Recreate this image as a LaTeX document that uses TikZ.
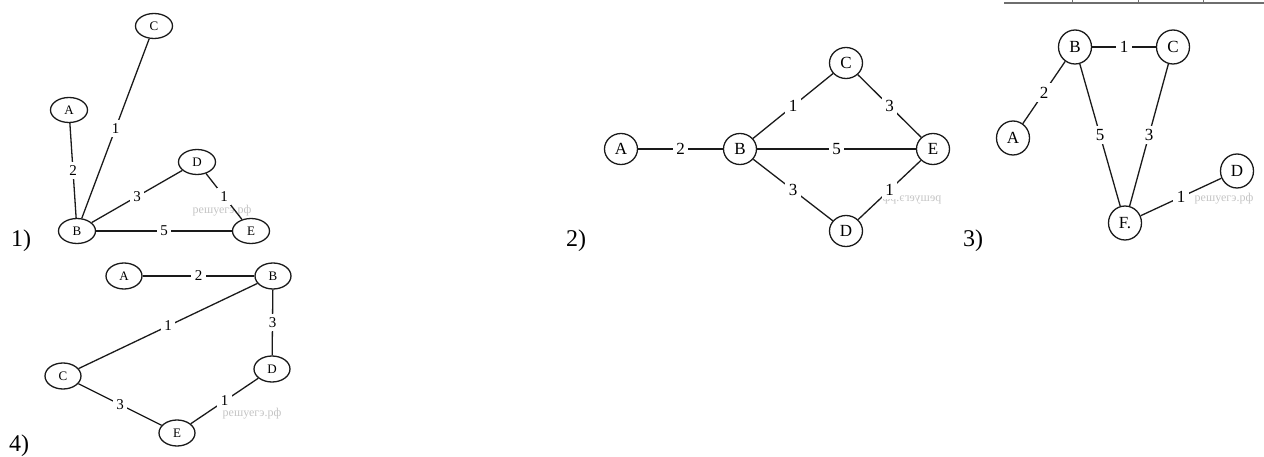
\documentclass[tikz,border=0pt]{standalone}
\usepackage{fontspec}
\setmainfont{Liberation Serif}
\usetikzlibrary{shapes.geometric}
\definecolor{inkdark}{HTML}{1A1A1A}
\definecolor{wmgray}{HTML}{C4C4C4}
\definecolor{rulegray}{HTML}{6E6E6E}

\begin{document}
\begin{tikzpicture}[x=1pt, y=-1pt,
  vtx/.style={draw=inkdark, line width=1.3pt, ellipse, inner sep=0pt,
    minimum width=34, minimum height=28, font=\fontsize{13}{13}\selectfont},
  edge/.style={draw=inkdark, line width=1.3pt},
  wt/.style={fill=white, inner sep=3.5pt, font=\fontsize{16}{16}\selectfont},
  tag/.style={font=\fontsize{24}{24}\selectfont, anchor=base west, inner sep=0pt},
  wmark/.style={font=\fontsize{12}{12}\selectfont, text=wmgray, inner sep=0pt},
]
\useasboundingbox (0,0) rectangle (1264,457);
% edge of a table above graph 3
\draw[rulegray, line width=2pt] (1004,3) -- (1264,3);
\foreach \x in {1072,1138,1203} {
  \draw[rulegray, line width=1pt] (\x,0) -- (\x,4);
}
% graph 1
\node[wmark] (wm1) at (222,211) {решуегэ.рф};
\begin{scope}[vtx/.append style={minimum width=37, minimum height=25, font=\fontsize{13}{13}\selectfont},
  wt/.append style={font=\fontsize{15}{15}\selectfont}]
\foreach \n/\x/\y in {A/69/110, B/77/231, C/154/26, D/197/162, E/251/231} {
  \node[vtx] (g1\n) at (\x,\y) {\n};
}
\foreach \u/\v/\w in {A/B/2, B/C/1, B/D/3, D/E/1, B/E/5} {
  \draw[edge] (g1\u) -- node[wt] {\w} (g1\v);
}
\end{scope}
\node[tag] (t1) at (11,247) {1)};
% graph 2
\node[wmark, xscale=-1] (wm2) at (912,199) {решуегэ.рф};
\begin{scope}[vtx/.append style={minimum width=33, minimum height=31, font=\fontsize{17}{17}\selectfont},
  wt/.append style={font=\fontsize{17}{17}\selectfont}]
\foreach \n/\x/\y in {A/621/149, B/740/149, C/846/63, D/846/231, E/933/149} {
  \node[vtx] (g2\n) at (\x,\y) {\n};
}
\foreach \u/\v/\w in {A/B/2, B/C/1, B/E/5, B/D/3, C/E/3, E/D/1} {
  \draw[edge] (g2\u) -- node[wt] {\w} (g2\v);
}
\end{scope}
\node[tag] (t2) at (566,247) {2)};
% graph 3
\node[wmark] (wm3) at (1224,199) {решуегэ.рф};
\begin{scope}[vtx/.append style={minimum width=33, minimum height=34, font=\fontsize{17}{17}\selectfont},
  wt/.append style={font=\fontsize{17}{17}\selectfont}]
\foreach \n/\t/\x/\y in {A/A/1013/138, B/B/1075/47, C/C/1173/47, D/D/1237/171, F/F./1125/223} {
  \node[vtx] (g3\n) at (\x,\y) {\t};
}
\foreach \u/\v/\w in {B/C/1, B/A/2, B/F/5, C/F/3, F/D/1} {
  \draw[edge] (g3\u) -- node[wt] {\w} (g3\v);
}
\end{scope}
\node[tag] (t3) at (963,247) {3)};
% graph 4
\node[wmark] (wm4) at (252,414) {решуегэ.рф};
\begin{scope}[vtx/.append style={minimum width=36, minimum height=26, font=\fontsize{13}{13}\selectfont},
  wt/.append style={font=\fontsize{15}{15}\selectfont}]
\foreach \n/\x/\y in {A/124/276, B/273/276, C/63/376, D/272/369, E/177/433} {
  \node[vtx] (g4\n) at (\x,\y) {\n};
}
\foreach \u/\v/\w in {A/B/2, B/C/1, B/D/3, C/E/3, D/E/1} {
  \draw[edge] (g4\u) -- node[wt] {\w} (g4\v);
}
\end{scope}
\node[tag] (t4) at (9,451) {4)};
\end{tikzpicture}
\end{document}
